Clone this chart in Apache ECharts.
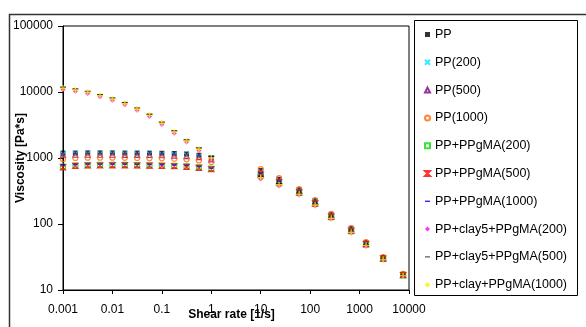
<!DOCTYPE html>
<html><head><meta charset="utf-8">
<script src="https://cdn.jsdelivr.net/npm/echarts@6/dist/echarts.min.js"></script>
<style>html,body{margin:0;padding:0;background:#fff}#c{width:586px;height:327px}</style>
</head><body><div id="c"></div>
<script>
const lowShear = [0.001, 0.00178, 0.00316, 0.00562, 0.01, 0.0178, 0.0316, 0.0562, 0.1, 0.178, 0.316, 0.562, 1];
const highShear = [10, 23.5, 60, 126, 267, 676, 1350, 3000, 7600];
const seriesNames = ['PP','PP(200)','PP(500)','PP(1000)','PP+PPgMA(200)','PP+PPgMA(500)','PP+PPgMA(1000)','PP+clay5+PPgMA(200)','PP+clay5+PPgMA(500)','PP+clay+PPgMA(1000)'];
const xTickLabels = ['0.001','0.01','0.1','1','10','100','1000','10000'];
const yTickLabels = ['10','100','1000','10000','100000'];

const ppVisc        = [1190,1190,1195,1195,1195,1190,1190,1185,1180,1170,1150,1100,1000, 646,477,329,224,138,85,52.2,31.1,17.3];
const pp200Visc     = [1150,1160,1160,1160,1160,1160,1155,1150,1145,1130,1110,1070,980, 624,464,322,219,136,83.4,51.5,30.8,17.2];
const pp500Visc     = [1110,1120,1120,1120,1120,1115,1115,1110,1100,1090,1070,1030,950, 613,458,318,217,135,82.6,51.2,30.7,17.1];
const pp1000Visc    = [960,1000,1010,1010,1010,1005,1000,995,990,975,955,920,870, 680,498,339,231,142,87,53,31.6,17.5];
const gma200Visc    = [740,770,780,785,785,785,780,775,770,760,745,720,690, 542,415,296,202,127,77.8,48.8,29.6,16.7];
const gma500Visc    = [720,760,770,770,775,775,770,765,760,750,735,710,675, 561,427,302,206,129,79,49.4,29.9,16.8];
const gma1000Visc   = [790,800,810,810,810,810,805,800,795,785,770,745,705, 591,446,312,213,132,81.3,50.5,30.3,17.0];
const clay200Visc   = [10950,10300,9500,8450,7520,6390,5310,4250,3230,2380,1740,1300,960, 479,377,275,188,119,73,46,28.5,16.3];
const clay500Visc   = [11800,11100,10200,9100,8100,6900,5700,4600,3480,2580,1880,1420,1060, 532,409,293,200,126,77.1,48.4,29.4,16.6];
const clay1000Visc  = [11380,10720,9890,8790,7830,6650,5530,4430,3360,2480,1810,1355,1000, 505,393,284,194,122,75,47.4,29.0,16.5];

const shear = lowShear.concat(highShear);
const allVisc = [ppVisc,pp200Visc,pp500Visc,pp1000Visc,gma200Visc,gma500Visc,gma1000Visc,clay200Visc,clay500Visc,clay1000Visc];

const FONT = 'Arial, "Liberation Sans", sans-serif';
const styles = [
  {symbol:'rect', size:5, item:{color:'#000'}},
  {symbol:'path://M0,0L10,10M10,0L0,10', size:5, item:{color:'rgba(0,0,0,0)', borderColor:'#00E5FF', borderWidth:1.2}},
  {symbol:'triangle', size:5, item:{color:'rgba(0,0,0,0)', borderColor:'#800080', borderWidth:1.2}},
  {symbol:'circle', size:5, item:{color:'rgba(0,0,0,0)', borderColor:'#FF6600', borderWidth:1.2}},
  {symbol:'rect', size:5, item:{color:'rgba(0,0,0,0)', borderColor:'#00E000', borderWidth:1.2}},
  {symbol:'path://M0,0L10,0L0,10L10,10Z', size:5, item:{color:'rgba(0,0,0,0)', borderColor:'#FF0000', borderWidth:1.2}},
  {symbol:'path://M0,0L10,0L10,3L0,3Z', size:[4,1.5], item:{color:'#0000FF'}},
  {symbol:'diamond', size:5, item:{color:'#FF00FF'}},
  {symbol:'path://M0,0L10,0L10,2L0,2Z', size:[6,1.5], item:{color:'#000'}},
  {symbol:'path://M5,0L5,10M0,5L10,5', size:6, item:{color:'rgba(0,0,0,0)', borderColor:'#FFEE00', borderWidth:1.4}}
];

const series = seriesNames.map((name, i) => ({
  name: name,
  type: 'scatter',
  symbol: styles[i].symbol,
  symbolSize: styles[i].size,
  itemStyle: styles[i].item,
  data: shear.map((x, j) => [x, allVisc[i][j]]),
  z: 2 + i
}));

const chart = echarts.init(document.getElementById('c'), null, {renderer:'canvas'});
chart.setOption({
  animation: false,
  backgroundColor: '#fff',
  grid: {left:63, top:26, right:177, bottom:37, containLabel:false, outerBoundsMode:'none', show:true, borderColor:'#000', borderWidth:1, backgroundColor:'transparent'},
  xAxis: {
    type:'log', logBase:10, min:0.001, max:10000,
    name:'Shear rate [1/s]', nameLocation:'middle', nameGap:19, nameMoveOverlap:false,
    nameTextStyle:{fontFamily:FONT, fontSize:12, fontWeight:'bold', color:'#000', padding:[0,9,0,0]},
    axisLine:{show:true, lineStyle:{color:'#000', width:1}},
    axisTick:{show:true, inside:false, length:4, lineStyle:{color:'#000'}},
    minorTick:{show:false},
    splitLine:{show:false},
    axisLabel:{fontFamily:FONT, fontSize:12, color:'#000', margin:14,
      formatter: v => { const k = Math.round(Math.log10(v)) + 3; return xTickLabels[k] !== undefined ? xTickLabels[k] : ''; }}
  },
  yAxis: {
    type:'log', logBase:10, min:10, max:100000,
    name:'Viscosity [Pa*s]', nameLocation:'middle', nameGap:36, nameRotate:90, nameMoveOverlap:false,
    nameTextStyle:{fontFamily:FONT, fontSize:12, fontWeight:'bold', color:'#000'},
    axisLine:{show:true, lineStyle:{color:'#000', width:1}},
    axisTick:{show:true, inside:false, length:5, lineStyle:{color:'#000'}},
    minorTick:{show:false},
    splitLine:{show:false},
    axisLabel:{fontFamily:FONT, fontSize:12, color:'#000', margin:10,
      formatter: v => { const k = Math.round(Math.log10(v)) - 1; return yTickLabels[k] !== undefined ? yTickLabels[k] : ''; }}
  },
  legend: {
    orient:'vertical', left:424, top:28, padding:0,
    itemWidth:5, itemHeight:5, itemGap:14.8,
    textStyle:{fontFamily:FONT, fontSize:12.5, color:'#000'},
    data: seriesNames.map((n, i) => ({name:n, icon: styles[i].symbol}))
  },
  graphic: [
    {type:'rect', shape:{x:9.5, y:14.5, width:620, height:400}, style:{fill:'none', stroke:'#333', lineWidth:1.5}, z:-1, silent:true},
    {type:'rect', shape:{x:414.5, y:20.5, width:163, height:275}, style:{fill:'none', stroke:'#000', lineWidth:1}, z:-1, silent:true}
  ],
  series: series
});
</script></body></html>
